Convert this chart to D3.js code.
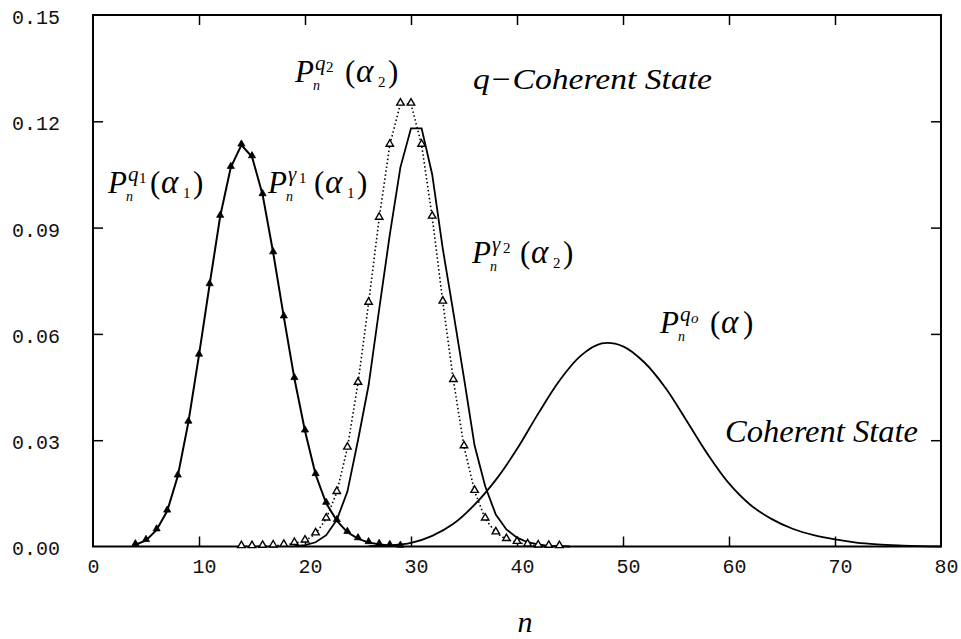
<!DOCTYPE html>
<html>
<head>
<meta charset="utf-8">
<script src="https://cdn.jsdelivr.net/npm/d3@7"></script>
<style>
  body { margin: 0; background: #fff; }
  svg { display: block; }
  .tick text { font-family: "Liberation Mono", "DejaVu Sans Mono", monospace; font-size: 20px; fill: #111; }
  .tick line { stroke: #000; stroke-width: 1.5; }
</style>
</head>
<body>
<svg width="961" height="639"></svg>
<script>
// q1 distribution (markers) and gamma1 (solid) - they coincide
const nQ1 = [4,5,6,7,8,9,10,11,12,13,14,15,16,17,18,19,20,21,22,23,24,25,26,27,28,29]
const pQ1 = [0.0005,0.0017,0.0047,0.0100,0.0199,0.0351,0.0540,0.0739,0.0932,0.1070,0.1133,0.1100,0.0993,
             0.0829,0.0648,0.0474,0.0326,0.0203,0.0122,0.0073,0.0040,0.0022,0.0011,0.0006,0.0003,0.0001]

// q2 distribution (dotted with open triangles)
const nQ2 = [14,15,16,17,18,19,20,21,22,23,24,25,26,27,28,29,30,31,32,33,34,35,36,37,38,39,40,41,42,43,44]
const pQ2 = [0,0,0.0001,0.0002,0.0004,0.0009,0.0016,0.0036,0.0078,0.0153,0.0278,0.0461,0.0687,0.0927,0.1133,
             0.1249,0.1249,0.1133,0.0930,0.0690,0.0469,0.0282,0.0156,0.0078,0.0039,0.0020,0.0012,0.0005,0.0002,0.0001,0]

// gamma2 distribution (solid)
const nG2 = [19,20,21,22,23,24,25,26,27,28,29,30,31,32,33,34,35,36,37,38,39,40,41,42,43,44,45]
const pG2 = [0.0001,0.0004,0.0012,0.0032,0.0075,0.0155,0.0300,0.0455,0.0670,0.0880,0.1070,0.1180,0.1180,
             0.1050,0.0840,0.0660,0.0475,0.0285,0.0170,0.0090,0.0048,0.0025,0.0012,0.0006,0.0002,0.0001,0]

// coherent state (solid, smooth)
const nCoh = [26,28,30,32,34,36,38,40,42,44,46,48,50,52,54,56,58,60,62,64,66,68,70,72,74,76,78,80]
const pCoh = [0.0001,0.0003,0.0010,0.0030,0.0064,0.0118,0.0188,0.0275,0.0375,0.0468,0.0538,0.0573,0.0565,
              0.0520,0.0448,0.0355,0.0260,0.0178,0.0118,0.0078,0.0050,0.0032,0.0020,0.0011,0.0006,0.0003,0.0001,0]

const xTicks = [0,10,20,30,40,50,60,70,80]
const yTicks = [0,0.03,0.06,0.09,0.12,0.15]

const svg = d3.select('svg')
const serif = '"Liberation Serif", "DejaVu Serif", serif'

const x = d3.scaleLinear().domain([0, 80]).range([93, 941])
const y = d3.scaleLinear().domain([0, 0.15]).range([546.5, 15])

// axes with inward ticks on all sides
const gx = svg.append('g').attr('transform', `translate(0,${y(0)})`)
  .call(d3.axisBottom(x).tickValues(xTicks).tickSize(-10).tickSizeOuter(0).tickPadding(12).tickFormat(d3.format('d')))
gx.select('.domain').remove()
gx.selectAll('.tick text').attr('dx', d => d === 0 ? 0 : 5)
gx.selectAll('.tick line').filter(d => d === 0 || d === 80).remove()

const gy = svg.append('g').attr('transform', `translate(${x(0)},0)`)
  .call(d3.axisLeft(y).tickValues(yTicks).tickSize(-10).tickSizeOuter(0).tickPadding(33).tickFormat(d3.format('.2f')))
gy.select('.domain').remove()
gy.selectAll('.tick text').attr('dy', '0.42em')
gy.selectAll('.tick line').filter(d => d === 0 || d === 0.15).remove()

const gt = svg.append('g').attr('transform', `translate(0,${y(0.15)})`)
  .call(d3.axisTop(x).tickValues(xTicks.slice(1, -1)).tickSize(-10).tickSizeOuter(0).tickFormat(''))
gt.select('.domain').remove()

const gr = svg.append('g').attr('transform', `translate(${x(80)},0)`)
  .call(d3.axisRight(y).tickValues(yTicks.slice(1, -1)).tickSize(-10).tickSizeOuter(0).tickFormat(''))
gr.select('.domain').remove()

// frame
svg.append('rect')
  .attr('x', x(0)).attr('y', y(0.15))
  .attr('width', x(80) - x(0)).attr('height', y(0) - y(0.15))
  .attr('fill', 'none').attr('stroke', '#000').attr('stroke-width', 2)

const line = d3.line().x(d => x(d[0])).y(d => y(d[1]))
const smooth = d3.line().x(d => x(d[0])).y(d => y(d[1])).curve(d3.curveCatmullRom)

const q1 = d3.zip(nQ1, pQ1)
const q2 = d3.zip(nQ2, pQ2)
const g2 = d3.zip(nG2, pG2)
const coh = d3.zip(nCoh, pCoh)

svg.append('path').attr('d', smooth(coh))
  .attr('fill', 'none').attr('stroke', '#000').attr('stroke-width', 1.8)

svg.append('path').attr('d', line(g2))
  .attr('fill', 'none').attr('stroke', '#000').attr('stroke-width', 1.8)

svg.append('path').attr('d', line(q2))
  .attr('fill', 'none').attr('stroke', '#000').attr('stroke-width', 1.6)
  .attr('stroke-dasharray', '1.5,2.5')

svg.append('path').attr('d', line(q1))
  .attr('fill', 'none').attr('stroke', '#000').attr('stroke-width', 2)

const tri = d3.symbol(d3.symbolTriangle)

svg.append('g').selectAll('path').data(q2).join('path')
  .attr('transform', d => `translate(${x(d[0])},${y(d[1]) - 1})`)
  .attr('d', tri.size(24)())
  .attr('fill', '#fff').attr('stroke', '#000').attr('stroke-width', 1.4)

svg.append('g').selectAll('path').data(q1).join('path')
  .attr('transform', d => `translate(${x(d[0])},${y(d[1]) - 1})`)
  .attr('d', tri.size(22)())
  .attr('fill', '#000').attr('stroke', '#000').attr('stroke-width', 0.8)

// P_n^{sup}(alpha) labels
function pLabel(x0, y0, sup, supSub, argSub, gap) {
  const g = svg.append('g').attr('transform', `translate(${x0},${y0})`)
    .attr('font-family', serif).attr('fill', '#000')
  g.append('text').attr('font-style', 'italic').attr('font-size', 31).text('P')
  g.append('text').attr('x', 18).attr('y', 8).attr('font-style', 'italic').attr('font-size', 14).text('n')
  g.append('text').attr('x', 20).attr('y', -12).attr('font-style', 'italic').attr('font-size', 21).text(sup)
  g.append('text').attr('x', 31).attr('y', -10).attr('font-size', 15)
    .attr('font-style', supSub === 'o' ? 'italic' : 'normal').text(supSub)
  g.append('text').attr('x', gap).attr('font-size', 31).text('(')
  g.append('text').attr('x', gap + 11).attr('font-style', 'italic').attr('font-size', 33).text('α')
  if (argSub) g.append('text').attr('x', gap + 33).attr('y', 5).attr('font-size', 15).text(argSub)
  g.append('text').attr('x', argSub ? gap + 43 : gap + 33).attr('font-size', 31).text(')')
}

pLabel(108, 193, 'q', '1', '1', 42)
pLabel(268, 193, 'γ', '1', '1', 46)
pLabel(295, 82, 'q', '2', '2', 50)
pLabel(472, 263, 'γ', '2', '2', 48)
pLabel(660, 333, 'q', 'o', '', 50)

svg.append('text').attr('x', 473).attr('y', 89)
  .attr('font-family', serif).attr('font-size', 30).attr('font-style', 'italic')
  .attr('textLength', 239).attr('lengthAdjust', 'spacingAndGlyphs')
  .text('q−Coherent State')

svg.append('text').attr('x', 725).attr('y', 442)
  .attr('font-family', serif).attr('font-size', 31).attr('font-style', 'italic')
  .attr('textLength', 193).attr('lengthAdjust', 'spacingAndGlyphs')
  .text('Coherent State')

svg.append('text').attr('x', 525).attr('y', 632).attr('text-anchor', 'middle')
  .attr('font-family', serif).attr('font-size', 30).attr('font-style', 'italic')
  .text('n')
</script>
</body>
</html>
